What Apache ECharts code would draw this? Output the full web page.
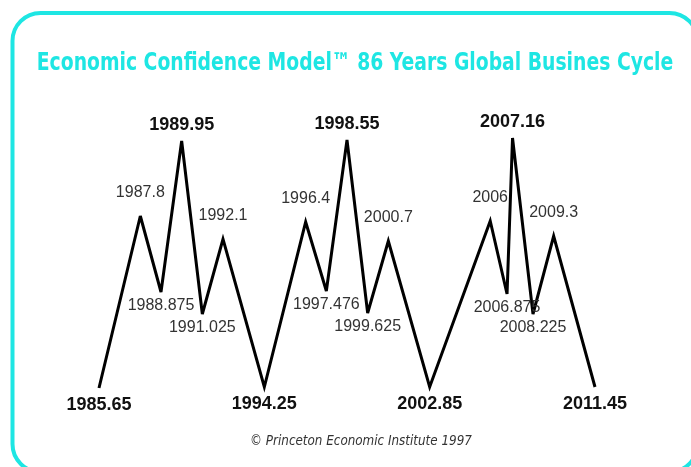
<!DOCTYPE html>
<html>
<head>
<meta charset="utf-8">
<script src="https://cdn.jsdelivr.net/npm/echarts@6/dist/echarts.min.js"></script>
<style>
  html, body { margin: 0; padding: 0; background: #fff; }
  #main { width: 691px; height: 467px; }
</style>
</head>
<body>
<div id="main"></div>
<script>
// turning points of the cycle
var years  = [1985.65, 1987.8, 1988.875, 1989.95, 1991.025, 1992.1, 1994.25,
              1996.4, 1997.476, 1998.55, 1999.625, 2000.7, 2002.85,
              2006, 2006.875, 2007.16, 2008.225, 2009.3, 2011.45];
var levels = [0, 172, 96, 247, 74, 149, 1,
              166, 97, 248, 75, 147, 1,
              167, 94, 250, 74, 152, 1];
// main highs / lows are printed bold
var major  = [1985.65, 1989.95, 1994.25, 1998.55, 2002.85, 2007.16, 2011.45];

var cyan = '#1ee6e3';
var narrow = '"DejaVu Sans Condensed", "Liberation Sans", sans-serif';

var myChart = echarts.init(document.getElementById('main'));

var points = years.map(function (y, i) {
    var prev = i > 0 ? levels[i - 1] : -1;
    var next = i < levels.length - 1 ? levels[i + 1] : -1;
    var isPeak = levels[i] > prev && levels[i] > next;
    var bold = major.indexOf(y) >= 0;
    return {
        name: String(y),
        value: [y, levels[i]],
        label: {
            position: isPeak ? 'top' : 'bottom',
            distance: isPeak ? (bold ? 6 : 14) : (bold ? 7 : 5),
            fontWeight: bold ? 'bold' : 'normal',
            fontSize: bold ? 18 : 16,
            color: bold ? '#111' : '#333'
        }
    };
});

var option = {
    animation: false,
    grid: {
        left: 99,
        right: 691 - 595,
        top: 138,
        bottom: 467 - 388
    },
    xAxis: {
        type: 'value',
        min: 1985.65,
        max: 2011.45,
        show: false
    },
    yAxis: {
        type: 'value',
        min: 0,
        max: 250,
        show: false
    },
    series: [{
        type: 'line',
        data: points,
        clip: false,
        symbol: 'circle',
        symbolSize: 2,
        showSymbol: true,
        itemStyle: { color: 'rgba(0,0,0,0)' },
        lineStyle: { color: '#000', width: 3, join: 'miter', miterLimit: 4 },
        label: {
            show: true,
            fontFamily: '"Liberation Sans", Arial, sans-serif',
            formatter: function (p) { return p.name; }
        }
    }],
    graphic: [{
        type: 'rect',
        shape: { x: 12.5, y: 13, width: 685, height: 459, r: 28 },
        style: { fill: 'none', stroke: cyan, lineWidth: 4 }
    }, {
        type: 'text',
        x: 355,
        y: 64,
        scaleX: 0.87,
        style: {
            text: 'Economic Confidence Model\u2122 86 Years Global Busines Cycle',
            textAlign: 'center',
            textVerticalAlign: 'middle',
            fontFamily: narrow,
            fontWeight: 'bold',
            fontSize: 24,
            fill: cyan
        }
    }, {
        type: 'text',
        x: 361,
        y: 441,
        scaleX: 0.95,
        style: {
            text: '\u00a9 Princeton Economic Institute 1997',
            textAlign: 'center',
            textVerticalAlign: 'middle',
            fontFamily: narrow,
            fontStyle: 'italic',
            fontSize: 14,
            fill: '#333'
        }
    }]
};
myChart.setOption(option);
</script>
</body>
</html>
